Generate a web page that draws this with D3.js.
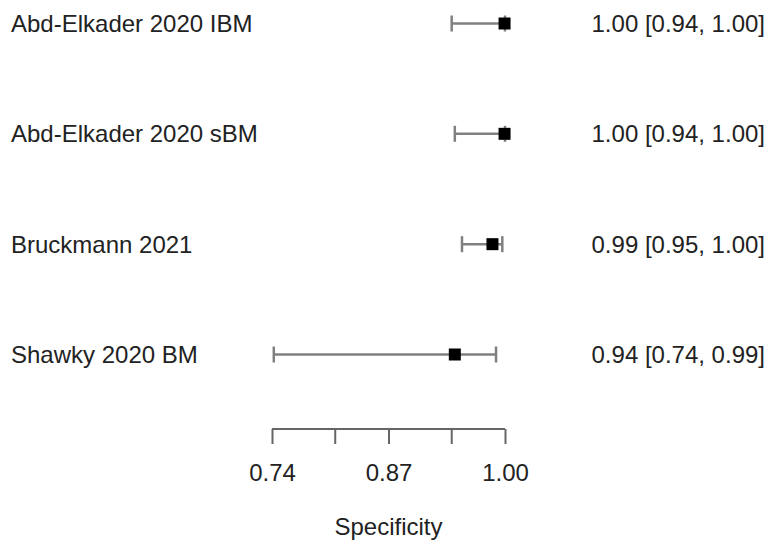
<!DOCTYPE html>
<meta charset="utf-8">
<head>
    <title>Forest plot</title>
    <script src="https://d3js.org/d3.v7.min.js"></script>
</head>
<style>
    body {
        margin: 0;
        background-color: #ffffff;
    }
    text {
        font-family: "Liberation Sans", Arial, sans-serif;
        font-size: 24px;
        fill: #222222;
    }
    .axis path,
    .axis line {
        fill: none;
        stroke: #666666;
        stroke-width: 2px;
    }
    .ci {
        stroke: #808080;
        stroke-width: 2.5px;
    }
</style>
<body>
<svg width="771" height="544"></svg>
<script>
    var studies = ["Abd-Elkader 2020 IBM", "Abd-Elkader 2020 sBM", "Bruckmann 2021", "Shawky 2020 BM"];
    var estimates = [0.9995, 0.9995, 0.986, 0.944];
    var lower = [0.9405, 0.944, 0.952, 0.742];
    var upper = [1.00, 1.00, 0.997, 0.990];
    var labels = ["1.00 [0.94, 1.00]", "1.00 [0.94, 1.00]", "0.99 [0.95, 1.00]", "0.94 [0.74, 0.99]"];
    var tickValues = [0.74, 0.81, 0.87, 0.94, 1.00];
    var tickLabels = ["0.74", "", "0.87", "", "1.00"];

    var svg = d3.select("svg");

    var x = d3.scaleLinear().domain([0.74, 1.00]).range([272, 505]);
    var y = d3.scalePoint().domain(studies).range([23.5, 354.5]);

    var rows = svg.selectAll(".row")
        .data(studies)
        .enter().append("g")
        .attr("class", "row");

    rows.append("text")
        .attr("x", 11)
        .attr("y", function(d) { return y(d); })
        .attr("dy", "0.35em")
        .text(function(d) { return d; });

    rows.append("text")
        .attr("x", 765)
        .attr("y", function(d) { return y(d); })
        .attr("dy", "0.35em")
        .style("text-anchor", "end")
        .text(function(d, i) { return labels[i]; });

    rows.append("line")
        .attr("class", "ci")
        .attr("x1", function(d, i) { return x(lower[i]); })
        .attr("x2", function(d, i) { return x(upper[i]); })
        .attr("y1", function(d) { return y(d); })
        .attr("y2", function(d) { return y(d); });

    // whisker caps
    [lower, upper].forEach(function(arr) {
        rows.append("line")
            .attr("class", "ci")
            .attr("x1", function(d, i) { return x(arr[i]); })
            .attr("x2", function(d, i) { return x(arr[i]); })
            .attr("y1", function(d) { return y(d) - 8; })
            .attr("y2", function(d) { return y(d) + 8; });
    });

    var box = 12;
    rows.append("rect")
        .attr("x", function(d, i) { return x(estimates[i]) - box / 2; })
        .attr("y", function(d) { return y(d) - box / 2; })
        .attr("width", box)
        .attr("height", box)
        .style("fill", "#000");

    svg.append("g")
        .attr("class", "axis")
        .attr("transform", "translate(0,429)")
        .call(d3.axisBottom(x)
            .tickValues(tickValues)
            .tickSize(15)
            .tickSizeOuter(0)
            .tickPadding(20)
            .tickFormat(function(d, i) { return tickLabels[i]; }))
        .selectAll("text")
        .style("font-size", "24px")
        .style("fill", "#222222");

    svg.select(".axis").select(".domain").attr("d", "M" + x(0.74) + ",0H" + x(1.00));

    svg.append("text")
        .attr("x", x(0.87))
        .attr("y", 535)
        .style("text-anchor", "middle")
        .text("Specificity");
</script>
</body>
